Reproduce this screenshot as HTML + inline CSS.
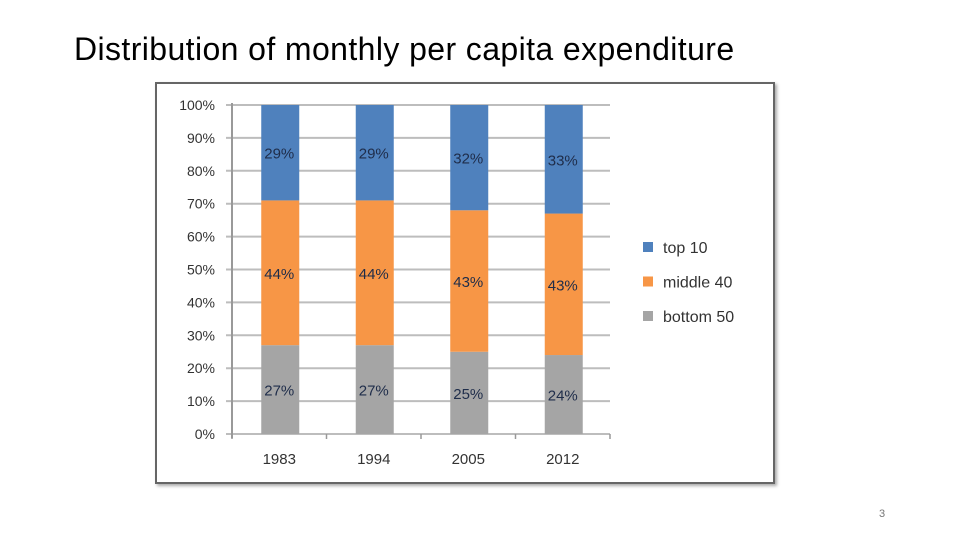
<!DOCTYPE html>
<html><head><meta charset="utf-8">
<style>
body{margin:0;width:960px;height:540px;background:#fff;overflow:hidden;font-family:"Liberation Sans",sans-serif;}
#title{position:absolute;left:74px;top:31px;font-size:32px;letter-spacing:0.4px;color:#000;white-space:nowrap;}
#pnum{position:absolute;left:879px;top:508px;font-size:11px;color:#777;}
#chart{position:absolute;left:155px;top:82px;width:616px;height:398px;border:2px solid #666;box-shadow:2px 2px 3px #aaa;background:#fff;}
svg{position:absolute;left:0;top:0;}
</style></head>
<body>
<div id="title">Distribution of monthly per capita expenditure</div>
<div id="chart"></div>
<svg id="svg" width="960" height="540"></svg>
<div id="pnum">3</div>
<script>
const categories=["1983","1994","2005","2012"];
const bottom50=[27,27,25,24];
const middle40=[44,44,43,43];
const top10=[29,29,32,33];
const yTicks=[0,10,20,30,40,50,60,70,80,90,100];
const seriesNames=["top 10","middle 40","bottom 50"];
const colors={"top 10":"#4f81bd","middle 40":"#f79646","bottom 50":"#a5a5a5"};
const NS="http://www.w3.org/2000/svg";
const svg=document.getElementById('svg');
const x0=232,x1=610,y0=434,y1=105;
const catW=(x1-x0)/categories.length,barW=38;
function y(v){return y0-(y0-y1)*v/100;}
function xc(i){return x0+catW*(i+0.5)+1;}
function mk(t,a){const e=document.createElementNS(NS,t);for(const k in a)e.setAttribute(k,a[k]);svg.appendChild(e);return e;}
yTicks.forEach(v=>{
  const g=mk('line',{x1:x0-6,x2:x1,y1:y(v),y2:y(v),stroke:'#bdbdbd','stroke-width':2});
  
  
  const t=mk('text',{x:215,y:y(v)+5,'text-anchor':'end','font-size':14,fill:'#333'});
  t.textContent=v+'%';
  
  
});
const ax=mk('line',{x1:x0,x2:x0,y1:y1-2,y2:y0+4,stroke:'#999','stroke-width':2});


for(let i=0;i<=categories.length;i++){
  const tk=mk('line',{x1:x0+catW*i,x2:x0+catW*i,y1:y0,y2:y0+5,stroke:'#999','stroke-width':1.5});
  
  
}
categories.forEach((c,i)=>{
  const segs=[["bottom 50",bottom50[i],0],["middle 40",middle40[i],bottom50[i]],["top 10",top10[i],bottom50[i]+middle40[i]]];
  segs.forEach(([n,v,base])=>{
    const top=Math.min(base+v,100);
    const r=mk('rect',{x:xc(i)-barW/2,y:y(top),width:barW,height:y(base)-y(top),fill:colors[n]});
    
    
    const t=mk('text',{x:xc(i)-1,y:(y(top)+y(base))/2+6,'text-anchor':'middle','font-size':15,fill:'#1f2d4a'});
    t.textContent=v+'%';
    
    
  });
  const l=mk('text',{x:xc(i)-1,y:464,'text-anchor':'middle','font-size':15,fill:'#333'});
  l.textContent=c;
  
  
});
seriesNames.forEach((n,i)=>{
  const yy=247+i*34.5;
  const s=mk('rect',{x:643,y:yy-5,width:10,height:10,fill:colors[n]});
  
  
  const t=mk('text',{x:663,y:yy+6,'font-size':16,fill:'#333'});
  t.textContent=n;
  
  
});
</script>
</body></html>
